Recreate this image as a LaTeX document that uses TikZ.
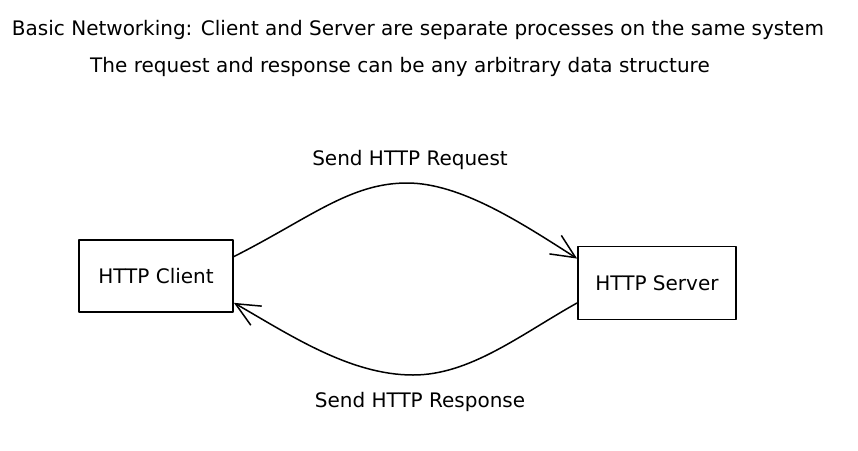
\documentclass[tikz,border=0pt]{standalone}
\usepackage{fontspec}
\setmainfont{DejaVu Sans}
\usetikzlibrary{arrows.meta}

\begin{document}
\begin{tikzpicture}[x=1pt, y=-1pt, line join=round, line cap=round,
    hand/.style={font=\fontsize{20}{24}\selectfont},
    box/.style={draw, line width=1.8pt, minimum width=154pt, minimum height=72pt, inner sep=0pt, hand},
    flow/.style={line width=1.5pt, -{Straight Barb[length=24pt, width=22pt, line width=1.5pt]}}]
  \useasboundingbox (0,0) rectangle (858,450);

  % Title lines
  \node[hand] (title) at (418,30) {Basic Networking: Client and Server are separate processes on the same system};
  \node[hand] (subtitle) at (400,67) {The request and response can be any arbitrary data structure};

  % Client and server
  \node[box] (client) at (156,276) {HTTP Client};
  \node[box, minimum width=158pt, minimum height=73pt] (server) at (657,283) {HTTP Server};

  % Request and response
  \draw[flow] (client.14) .. controls (310,218) and (350,183) .. (407,183)
    .. controls (460,183) and (520,222) .. (server.163);
  \draw[flow] (server.194) .. controls (520,335) and (470,375) .. (413,375)
    .. controls (350,375) and (290,335) .. (client.341);
  \node[hand] (reqlabel) at (410,160) {Send HTTP Request};
  \node[hand] (resplabel) at (420,402) {Send HTTP Response};
\end{tikzpicture}
\end{document}
